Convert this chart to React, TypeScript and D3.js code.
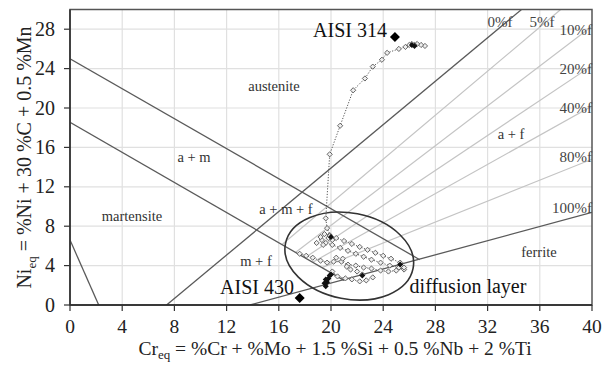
import React from 'react';
import * as d3 from 'd3';

const W = 602, H = 367;
const xTicks = [0, 4, 8, 12, 16, 20, 24, 28, 32, 36, 40];
const yTicks = [0, 4, 8, 12, 16, 20, 24, 28];

// phase boundary lines (Cr_eq, Ni_eq)
const boundaryLines: [number, number][][] = [
  [[0, 25.0], [26.8, 4.6]],
  [[0, 18.55], [21.0, 2.5]],
  [[0, 6.6], [2.2, 0]],
  [[7.4, 0], [34.6, 30]],
  [[13.8, 0], [40, 9.4]],
];
// ferrite iso-lines 5,10,20,40,80 %
const ferriteLines: [number, number][][] = [
  [[16.25, 6.14], [37.6, 30]],
  [[17.3, 5.35], [40, 28.3]],
  [[18.0, 4.8], [40, 24.3]],
  [[18.6, 4.35], [40, 20.2]],
  [[19.3, 3.8], [40, 14.8]],
];

const series314: [number, number][] = [
  [27.2, 26.3], [26.9, 26.4], [26.6, 26.5], [26.4, 26.4], [26.2, 26.5], [26.0, 26.4],
  [25.7, 26.2], [25.2, 26.0], [24.3, 25.6], [23.9, 24.9], [23.2, 24.2], [22.6, 23.0],
  [21.7, 21.8], [20.7, 18.2], [19.9, 15.3], [19.6, 8.8], [19.7, 7.8], [19.9, 7.1], [19.8, 6.8],
];
const rowTop: [number, number][] = [
  [19.9, 7.0], [20.4, 6.8], [21.0, 6.5], [21.6, 6.2], [22.2, 5.9], [22.8, 5.6],
  [23.4, 5.3], [24.0, 5.0], [24.6, 4.7], [25.3, 4.3],
];
const rowSecond: [number, number][] = [
  [19.3, 6.6], [19.6, 6.3], [20.1, 6.1], [20.7, 5.8], [21.3, 5.5], [21.9, 5.2],
  [22.5, 4.9], [23.1, 4.6], [23.8, 4.3], [24.5, 4.0], [25.2, 3.8], [25.6, 3.6],
];
const rowLeft: [number, number][] = [
  [17.6, 5.2], [18.1, 5.0], [18.6, 4.8], [19.2, 4.5], [19.7, 4.3], [20.2, 4.4],
  [20.8, 4.4], [21.3, 4.1], [21.9, 4.0], [22.5, 3.8], [23.1, 3.7], [23.8, 3.5],
  [24.4, 3.4], [25.0, 3.5], [25.6, 3.8],
];
const rowLow: [number, number][] = [
  [20.1, 3.4], [20.5, 2.9], [21.1, 2.7], [21.6, 2.6], [22.2, 2.4], [22.7, 2.5], [23.2, 2.8],
];
const clusterOpen: [number, number][] = [
  [18.9, 6.3], [19.2, 6.9], [19.5, 7.2], [20.1, 6.6], [19.4, 6.1], [20.4, 4.8],
  [20.9, 4.7], [21.2, 3.9], [21.5, 3.6], [22.0, 3.4], [22.4, 3.1],
];
const filledPts: [number, number][] = [
  [19.6, 1.9], [19.7, 2.3], [19.8, 2.7], [19.9, 3.0], [19.5, 2.2], [20.0, 3.1],
  [19.6, 2.6], [25.3, 4.1], [22.4, 3.0], [20.0, 6.9], [26.2, 26.4], [26.4, 26.3],
];
const aisi314: [number, number] = [24.9, 27.2];
const aisi430: [number, number] = [17.6, 0.7];

const regionLabels = [
  { t: 'austenite', x: 274, y: 91 },
  { t: 'a + m', x: 194, y: 162 },
  { t: 'martensite', x: 132, y: 221 },
  { t: 'a + m + f', x: 286, y: 214 },
  { t: 'm + f', x: 256, y: 266 },
  { t: 'ferrite', x: 539, y: 257 },
  { t: 'a + f', x: 511, y: 139 },
];
const bigLabels = [
  { t: 'AISI 314', x: 350, y: 37 },
  { t: 'AISI 430', x: 257, y: 294 },
  { t: 'diffusion layer', x: 468, y: 293 },
];
const pctLabels = [
  { t: '0%f', x: 500, y: 27, a: 'middle' },
  { t: '5%f', x: 542, y: 27, a: 'middle' },
  { t: '10%f', x: 592, y: 35, a: 'end' },
  { t: '20%f', x: 592, y: 74, a: 'end' },
  { t: '40%f', x: 592, y: 113, a: 'end' },
  { t: '80%f', x: 592, y: 162, a: 'end' },
  { t: '100%f', x: 592, y: 213, a: 'end' },
];

const FONT = '"Liberation Serif", "Times New Roman", serif';

export default function App() {
  const x = d3.scaleLinear().domain([0, 40]).range([70, 592]);
  const y = d3.scaleLinear().domain([0, 30]).range([305, 9.5]);
  const line = d3.line<[number, number]>().x(d => x(d[0])).y(d => y(d[1]));
  const dia = (r: number) => `M0,${-r}L${r},0L0,${r}L${-r},0Z`;
  const dotted = [series314, rowTop, rowSecond, rowLeft, rowLow];
  const opens = [...series314, ...rowTop, ...rowSecond, ...rowLeft, ...rowLow, ...clusterOpen];
  const [x0, x1] = x.range();
  const [y0, y1] = y.range();

  return (
    <svg width={W} height={H} style={{ position: 'absolute', left: 0, top: 0, background: '#fff' }} fontFamily={FONT}>
      <defs>
        <clipPath id="plot"><rect x={x0} y={y1} width={x1 - x0} height={y0 - y1} /></clipPath>
      </defs>
      {xTicks.slice(1, -1).map(t => (
        <line key={'gx' + t} x1={x(t)} x2={x(t)} y1={y0} y2={y1} stroke="#e0e0e0" strokeWidth={1.2} />
      ))}
      {yTicks.slice(1).map(t => (
        <line key={'gy' + t} x1={x0} x2={x1} y1={y(t)} y2={y(t)} stroke="#e0e0e0" strokeWidth={1.2} />
      ))}
      <g clipPath="url(#plot)">
        {ferriteLines.map((l, i) => (
          <path key={'f' + i} d={line(l) || ''} stroke="#c4c4c4" strokeWidth={1.2} fill="none" />
        ))}
        {boundaryLines.map((l, i) => (
          <path key={'b' + i} d={line(l) || ''} stroke="#5a5a5a" strokeWidth={1.3} fill="none" />
        ))}
        {dotted.map((s, i) => (
          <path key={'d' + i} d={line(s) || ''} stroke="#555" strokeWidth={1} strokeDasharray="1.2,1.6" fill="none" />
        ))}
        <ellipse cx={x(21.4)} cy={y(4.97)} rx={65} ry={43} transform={`rotate(11 ${x(21.4)} ${y(4.97)})`}
          fill="none" stroke="#333" strokeWidth={1.6} />
        {opens.map((p, i) => (
          <path key={'o' + i} d={dia(2.6)} transform={`translate(${x(p[0])},${y(p[1])})`} fill="#eee" stroke="#555" strokeWidth={0.9} />
        ))}
        {filledPts.map((p, i) => (
          <path key={'p' + i} d={dia(3)} transform={`translate(${x(p[0])},${y(p[1])})`} fill="#111" />
        ))}
        {[aisi314, aisi430].map((p, i) => (
          <path key={'a' + i} d={dia(5)} transform={`translate(${x(p[0])},${y(p[1])})`} fill="#000" />
        ))}
      </g>
      <rect x={x0} y={y1} width={x1 - x0} height={y0 - y1} fill="none" stroke="#555" strokeWidth={1.5} />
      <line x1={x0} x2={x1} y1={y0} y2={y0} stroke="#222" strokeWidth={1.6} />
      <line x1={x0} x2={x0} y1={y0} y2={y1} stroke="#333" strokeWidth={1.6} />
      {xTicks.map(t => (
        <g key={'xt' + t}>
          <line x1={x(t)} x2={x(t)} y1={y0} y2={y0 + 6} stroke="#333" strokeWidth={1.2} />
          <text x={x(t)} y={333} textAnchor="middle" fontSize={19.5} fill="#222">{t}</text>
        </g>
      ))}
      {yTicks.map(t => (
        <g key={'yt' + t}>
          <line x1={x0 - 6} x2={x0} y1={y(t)} y2={y(t)} stroke="#333" strokeWidth={1.2} />
          <text x={55} y={y(t) + 6.5} textAnchor="end" fontSize={20} fill="#222">{t}</text>
        </g>
      ))}
      <text x={335} y={355} textAnchor="middle" fontSize={19.5} fill="#222">
        Cr<tspan fontSize={13} dy={4}>eq</tspan><tspan dy={-4}> = %Cr + %Mo + 1.5 %Si + 0.5 %Nb + 2 %Ti</tspan>
      </text>
      <text transform="translate(31,157.5) rotate(-90)" textAnchor="middle" fontSize={20} fill="#222">
        Ni<tspan fontSize={13} dy={5}>eq</tspan><tspan dy={-5}> = %Ni + 30 %C + 0.5 %Mn</tspan>
      </text>
      {regionLabels.map(l => (
        <text key={l.t} x={l.x} y={l.y} textAnchor="middle" fontSize={14.5} fill="#333">{l.t}</text>
      ))}
      {bigLabels.map(l => (
        <text key={l.t} x={l.x} y={l.y} textAnchor="middle" fontSize={20} fill="#111">{l.t}</text>
      ))}
      {pctLabels.map(l => (
        <text key={l.t} x={l.x} y={l.y} textAnchor={l.a as any} fontSize={15} fill="#444">{l.t}</text>
      ))}
    </svg>
  );
}
